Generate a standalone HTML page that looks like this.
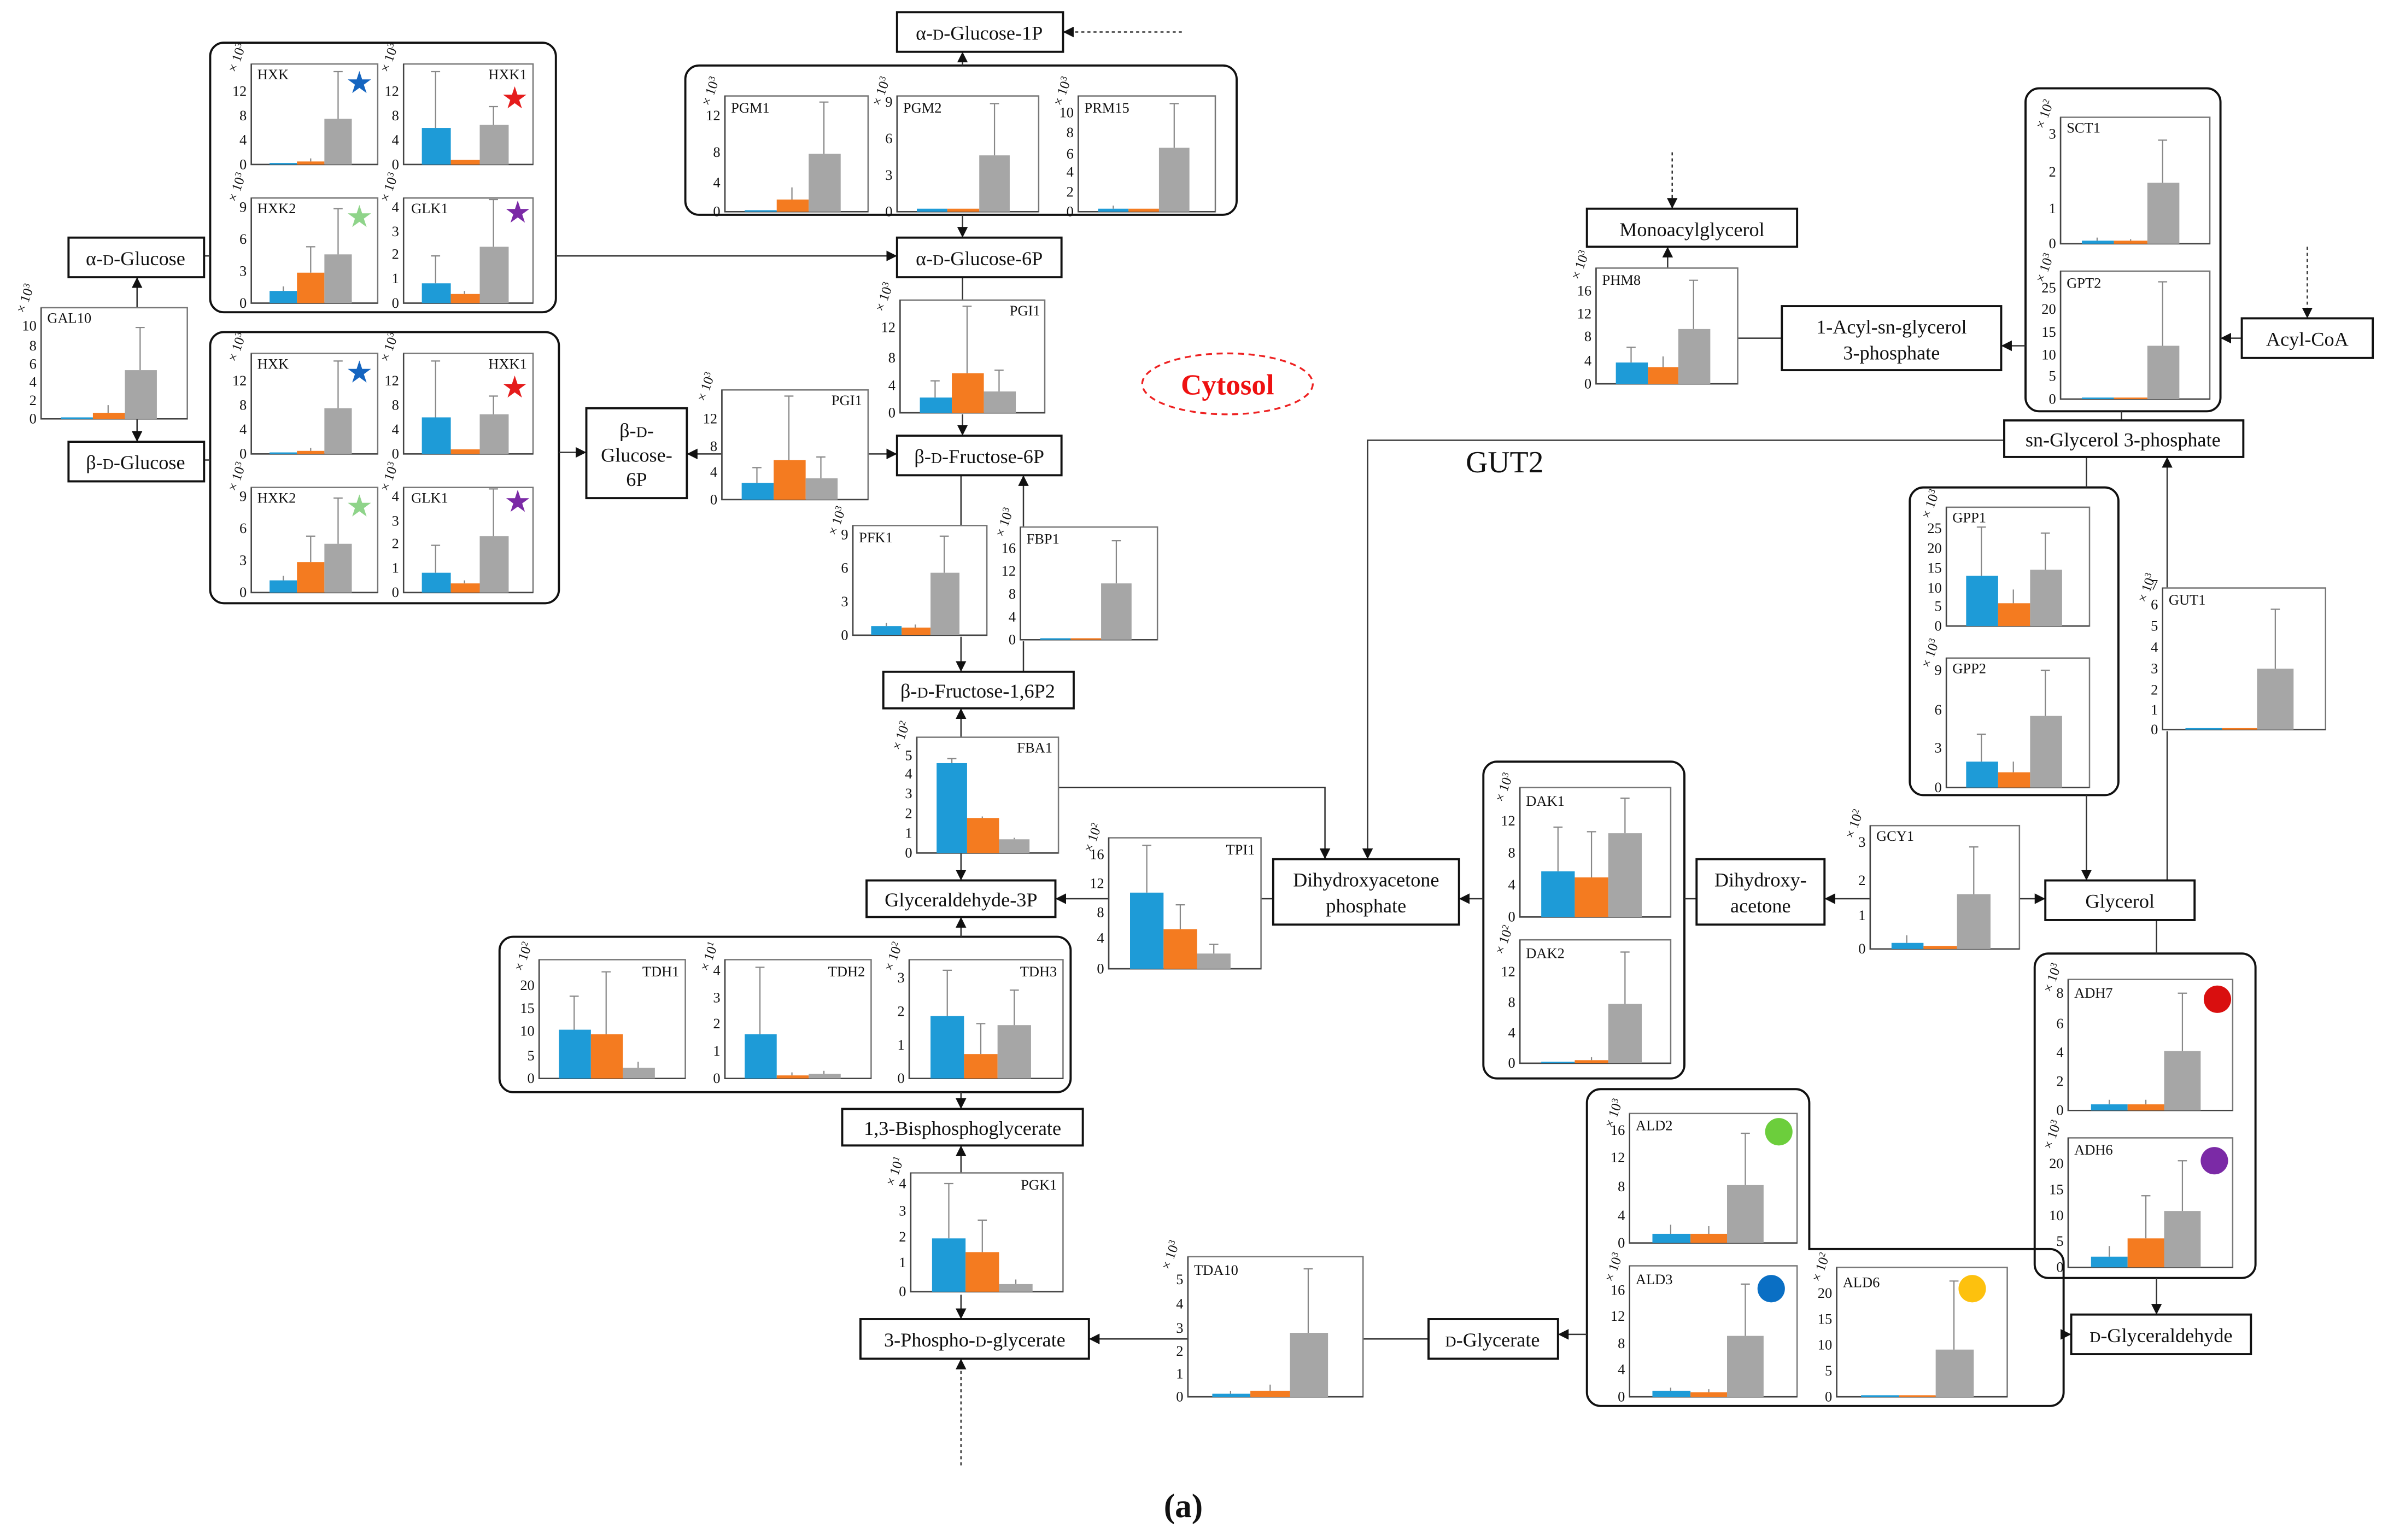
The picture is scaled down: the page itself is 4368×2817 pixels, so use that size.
<!DOCTYPE html>
<html><head><meta charset="utf-8"><style>
html,body{margin:0;padding:0;background:#fff}
svg{display:block}
text{font-family:"Liberation Serif",serif;fill:#111}
.fr{fill:none;stroke:#777;stroke-width:.9}
.ax{fill:none;stroke:#444;stroke-width:.9}
.b{fill:#1e9bd7}.o{fill:#f47b20}.g{fill:#a6a6a6}
.e{fill:none;stroke:#888;stroke-width:.8}
.t{font-size:9.5px;text-anchor:end}
.n{font-size:9.5px}
.nr{font-size:9.5px;text-anchor:end}
.x{font-size:9px}
.box{fill:#fff;stroke:#111;stroke-width:1.4}
.grp{fill:none;stroke:#111;stroke-width:1.4}
.l{fill:none;stroke:#333;stroke-width:.9}
.d{fill:none;stroke:#333;stroke-width:.9;stroke-dasharray:2 2}
.lb{font-size:13px;text-anchor:middle}
</style></head><body>
<svg width="4368" height="2817" viewBox="0 0 1568 1011" preserveAspectRatio="none" xmlns="http://www.w3.org/2000/svg">
<defs><marker id="a" viewBox="0 0 10 10" refX="10" refY="5" markerWidth="7" markerHeight="7" markerUnits="userSpaceOnUse" orient="auto"><path d="M0,0L10,5L0,10z" fill="#111"/></marker></defs>

<!-- group boxes -->
<rect class="grp" x="138" y="28" width="227" height="177" rx="9"/>
<rect class="grp" x="138" y="218" width="229" height="178" rx="9"/>
<rect class="grp" x="450" y="43" width="362" height="98" rx="9"/>
<rect class="grp" x="328" y="615" width="375" height="102" rx="9"/>
<rect class="grp" x="974" y="500" width="132" height="208" rx="9"/>
<path class="grp" d="M1051,715H1179a9,9 0 0 1 9,9V820H1346a9,9 0 0 1 9,9V914a9,9 0 0 1 -9,9H1051a9,9 0 0 1 -9,-9V724a9,9 0 0 1 9,-9z"/>
<rect class="grp" x="1336" y="626" width="145" height="213" rx="9"/>
<rect class="grp" x="1254" y="320" width="137" height="202" rx="9"/>
<rect class="grp" x="1330" y="58" width="128" height="212" rx="9"/>

<!-- connectors -->
<path class="l" d="M632,43V34" marker-end="url(#a)"/>
<path class="d" d="M776,21H698" marker-end="url(#a)"/>
<path class="l" d="M632,141V156" marker-end="url(#a)"/>
<path class="l" d="M365,168H589" marker-end="url(#a)"/>
<path class="l" d="M90,202V182" marker-end="url(#a)"/>
<path class="l" d="M90,275V290" marker-end="url(#a)"/>
<path class="l" d="M134,168H138M134,302H138"/>
<path class="l" d="M367,297H385" marker-end="url(#a)"/>
<path class="l" d="M474,298H451" marker-end="url(#a)"/>
<path class="l" d="M570,298H589" marker-end="url(#a)"/>
<path class="l" d="M632,182V197"/>
<path class="l" d="M632,272V286" marker-end="url(#a)"/>
<path class="l" d="M631,312V345"/>
<path class="l" d="M631,418V441" marker-end="url(#a)"/>
<path class="l" d="M672,441V421"/>
<path class="l" d="M672,346V312" marker-end="url(#a)"/>
<path class="l" d="M631,484V465" marker-end="url(#a)"/>
<path class="l" d="M631,560V578" marker-end="url(#a)"/>
<path class="l" d="M695,517H870V564" marker-end="url(#a)"/>
<path class="l" d="M836,590H828"/>
<path class="l" d="M728,590H693" marker-end="url(#a)"/>
<path class="l" d="M631,615V602" marker-end="url(#a)"/>
<path class="l" d="M631,717V728" marker-end="url(#a)"/>
<path class="l" d="M631,770V752" marker-end="url(#a)"/>
<path class="l" d="M631,850V866" marker-end="url(#a)"/>
<path class="d" d="M631,962V892" marker-end="url(#a)"/>
<path class="l" d="M938,879H895"/>
<path class="l" d="M780,879H715" marker-end="url(#a)"/>
<path class="l" d="M1042,876H1023" marker-end="url(#a)"/>
<path class="l" d="M1355,876H1360" marker-end="url(#a)"/>
<path class="l" d="M1416,839V863" marker-end="url(#a)"/>
<path class="l" d="M1416,626V604"/>
<path class="l" d="M1326,590H1343" marker-end="url(#a)"/>
<path class="l" d="M1228,590H1198" marker-end="url(#a)"/>
<path class="l" d="M974,590H958" marker-end="url(#a)"/>
<path class="l" d="M1114,590H1106"/>
<path class="l" d="M1370,522V578" marker-end="url(#a)"/>
<path class="l" d="M1370,320V300"/>
<path class="l" d="M1423,578V480"/>
<path class="l" d="M1423,386V300" marker-end="url(#a)"/>
<path class="l" d="M1316,289H898V564" marker-end="url(#a)"/>
<path class="l" d="M1393,276V270"/>
<path class="l" d="M1472,222H1458" marker-end="url(#a)"/>
<path class="d" d="M1515,162V209" marker-end="url(#a)"/>
<path class="l" d="M1330,227H1314" marker-end="url(#a)"/>
<path class="l" d="M1170,222H1141"/>
<path class="l" d="M1095,176V162" marker-end="url(#a)"/>
<path class="d" d="M1098,100V137" marker-end="url(#a)"/>

<!-- nodes -->
<rect class="box" x="589" y="8" width="109" height="26"/><text class="lb" x="643" y="26">α-<tspan font-size="10">D</tspan>-Glucose-1P</text>
<rect class="box" x="589" y="156" width="108" height="26"/><text class="lb" x="643" y="174">α-<tspan font-size="10">D</tspan>-Glucose-6P</text>
<rect class="box" x="45" y="156" width="89" height="26"/><text class="lb" x="89" y="174">α-<tspan font-size="10">D</tspan>-Glucose</text>
<rect class="box" x="45" y="290" width="89" height="26"/><text class="lb" x="89" y="308">β-<tspan font-size="10">D</tspan>-Glucose</text>
<rect class="box" x="385" y="268" width="66" height="59"/><text class="lb" x="418" y="287">β-<tspan font-size="10">D</tspan>-</text><text class="lb" x="418" y="303">Glucose-</text><text class="lb" x="418" y="319">6P</text>
<rect class="box" x="589" y="286" width="108" height="26"/><text class="lb" x="643" y="304">β-<tspan font-size="10">D</tspan>-Fructose-6P</text>
<rect class="box" x="580" y="441" width="125" height="24"/><text class="lb" x="642" y="458">β-<tspan font-size="10">D</tspan>-Fructose-1,6P2</text>
<rect class="box" x="569" y="578" width="124" height="24"/><text class="lb" x="631" y="595">Glyceraldehyde-3P</text>
<rect class="box" x="553" y="728" width="158" height="24"/><text class="lb" x="632" y="745">1,3-Bisphosphoglycerate</text>
<rect class="box" x="565" y="866" width="150" height="26"/><text class="lb" x="640" y="884">3-Phospho-<tspan font-size="10">D</tspan>-glycerate</text>
<rect class="box" x="836" y="564" width="122" height="43"/><text class="lb" x="897" y="582">Dihydroxyacetone</text><text class="lb" x="897" y="599">phosphate</text>
<rect class="box" x="1114" y="564" width="84" height="43"/><text class="lb" x="1156" y="582">Dihydroxy-</text><text class="lb" x="1156" y="599">acetone</text>
<rect class="box" x="1343" y="578" width="98" height="26"/><text class="lb" x="1392" y="596">Glycerol</text>
<rect class="box" x="938" y="866" width="85" height="26"/><text class="lb" x="980" y="884"><tspan font-size="10">D</tspan>-Glycerate</text>
<rect class="box" x="1360" y="863" width="118" height="26"/><text class="lb" x="1419" y="881"><tspan font-size="10">D</tspan>-Glyceraldehyde</text>
<rect class="box" x="1042" y="137" width="138" height="25"/><text class="lb" x="1111" y="155">Monoacylglycerol</text>
<rect class="box" x="1170" y="201" width="144" height="42"/><text class="lb" x="1242" y="219">1-Acyl-sn-glycerol</text><text class="lb" x="1242" y="236">3-phosphate</text>
<rect class="box" x="1472" y="209" width="86" height="26"/><text class="lb" x="1515" y="227">Acyl-CoA</text>
<rect class="box" x="1316" y="276" width="157" height="24"/><text class="lb" x="1394" y="293">sn-Glycerol 3-phosphate</text>
<ellipse cx="806" cy="252" rx="56" ry="20" fill="none" stroke="#e22" stroke-width="1.2" stroke-dasharray="4 3"/>
<text x="806" y="259" text-anchor="middle" font-size="19" font-weight="bold" style="fill:#e11">Cytosol</text>
<text x="988" y="310" text-anchor="middle" font-size="20">GUT2</text>
<text x="777" y="996" text-anchor="middle" font-size="22" font-weight="bold">(a)</text>

<!-- charts -->
<!-- HXK -->
<g><rect class="fr" x="165" y="42" width="83" height="66"/><path class="ax" d="M165,42V108H248"/>
<text class="t" x="162" y="111">0</text><text class="t" x="162" y="95">4</text><text class="t" x="162" y="79">8</text><text class="t" x="162" y="63">12</text>
<text class="x" transform="translate(155,48) rotate(-70)">× 10<tspan font-size="6" dy="-3">3</tspan></text>
<text class="n" x="169" y="52">HXK</text>
<rect class="b" x="177" y="107" width="18" height="1"/><rect class="o" x="195" y="106" width="18" height="2"/><rect class="g" x="213" y="78" width="18" height="30"/>
<path class="e" d="M204,106V104M222,78V47M219,47H225"/></g>
<!-- HXK1 -->
<g><rect class="fr" x="265" y="42" width="85" height="66"/><path class="ax" d="M265,42V108H350"/>
<text class="t" x="262" y="111">0</text><text class="t" x="262" y="95">4</text><text class="t" x="262" y="79">8</text><text class="t" x="262" y="63">12</text>
<text class="x" transform="translate(255,48) rotate(-70)">× 10<tspan font-size="6" dy="-3">3</tspan></text>
<text class="nr" x="346" y="52">HXK1</text>
<rect class="b" x="277" y="84" width="19" height="24"/><rect class="o" x="296" y="105" width="19" height="3"/><rect class="g" x="315" y="82" width="19" height="26"/>
<path class="e" d="M286,84V47M283,47H289M324,82V70M321,70H327"/></g>
<!-- HXK2 -->
<g><rect class="fr" x="165" y="130" width="83" height="69"/><path class="ax" d="M165,130V199H248"/>
<text class="t" x="162" y="202">0</text><text class="t" x="162" y="181">3</text><text class="t" x="162" y="160">6</text><text class="t" x="162" y="139">9</text>
<text class="x" transform="translate(155,133) rotate(-70)">× 10<tspan font-size="6" dy="-3">3</tspan></text>
<text class="n" x="169" y="140">HXK2</text>
<rect class="b" x="177" y="191" width="18" height="8"/><rect class="o" x="195" y="179" width="18" height="20"/><rect class="g" x="213" y="167" width="18" height="32"/>
<path class="e" d="M186,191V188M204,179V162M201,162H207M222,167V137M219,137H225"/></g>
<!-- GLK1 -->
<g><rect class="fr" x="265" y="130" width="85" height="69"/><path class="ax" d="M265,130V199H350"/>
<text class="t" x="262" y="202">0</text><text class="t" x="262" y="186">1</text><text class="t" x="262" y="170">2</text><text class="t" x="262" y="155">3</text><text class="t" x="262" y="139">4</text>
<text class="x" transform="translate(255,133) rotate(-70)">× 10<tspan font-size="6" dy="-3">3</tspan></text>
<text class="n" x="270" y="140">GLK1</text>
<rect class="b" x="277" y="186" width="19" height="13"/><rect class="o" x="296" y="193" width="19" height="6"/><rect class="g" x="315" y="162" width="19" height="37"/>
<path class="e" d="M286,186V168M283,168H289M305,193V191M324,162V131M321,131H327"/></g>
<!-- second group (shift +190) -->
<g transform="translate(0,190)">
<g><rect class="fr" x="165" y="42" width="83" height="66"/><path class="ax" d="M165,42V108H248"/>
<text class="t" x="162" y="111">0</text><text class="t" x="162" y="95">4</text><text class="t" x="162" y="79">8</text><text class="t" x="162" y="63">12</text>
<text class="x" transform="translate(155,48) rotate(-70)">× 10<tspan font-size="6" dy="-3">3</tspan></text>
<text class="n" x="169" y="52">HXK</text>
<rect class="b" x="177" y="107" width="18" height="1"/><rect class="o" x="195" y="106" width="18" height="2"/><rect class="g" x="213" y="78" width="18" height="30"/>
<path class="e" d="M204,106V104M222,78V47M219,47H225"/></g>
<g><rect class="fr" x="265" y="42" width="85" height="66"/><path class="ax" d="M265,42V108H350"/>
<text class="t" x="262" y="111">0</text><text class="t" x="262" y="95">4</text><text class="t" x="262" y="79">8</text><text class="t" x="262" y="63">12</text>
<text class="x" transform="translate(255,48) rotate(-70)">× 10<tspan font-size="6" dy="-3">3</tspan></text>
<text class="nr" x="346" y="52">HXK1</text>
<rect class="b" x="277" y="84" width="19" height="24"/><rect class="o" x="296" y="105" width="19" height="3"/><rect class="g" x="315" y="82" width="19" height="26"/>
<path class="e" d="M286,84V47M283,47H289M324,82V70M321,70H327"/></g>
<g><rect class="fr" x="165" y="130" width="83" height="69"/><path class="ax" d="M165,130V199H248"/>
<text class="t" x="162" y="202">0</text><text class="t" x="162" y="181">3</text><text class="t" x="162" y="160">6</text><text class="t" x="162" y="139">9</text>
<text class="x" transform="translate(155,133) rotate(-70)">× 10<tspan font-size="6" dy="-3">3</tspan></text>
<text class="n" x="169" y="140">HXK2</text>
<rect class="b" x="177" y="191" width="18" height="8"/><rect class="o" x="195" y="179" width="18" height="20"/><rect class="g" x="213" y="167" width="18" height="32"/>
<path class="e" d="M186,191V188M204,179V162M201,162H207M222,167V137M219,137H225"/></g>
<g><rect class="fr" x="265" y="130" width="85" height="69"/><path class="ax" d="M265,130V199H350"/>
<text class="t" x="262" y="202">0</text><text class="t" x="262" y="186">1</text><text class="t" x="262" y="170">2</text><text class="t" x="262" y="155">3</text><text class="t" x="262" y="139">4</text>
<text class="x" transform="translate(255,133) rotate(-70)">× 10<tspan font-size="6" dy="-3">3</tspan></text>
<text class="n" x="270" y="140">GLK1</text>
<rect class="b" x="277" y="186" width="19" height="13"/><rect class="o" x="296" y="193" width="19" height="6"/><rect class="g" x="315" y="162" width="19" height="37"/>
<path class="e" d="M286,186V168M283,168H289M305,193V191M324,162V131M321,131H327"/></g>
</g>
<!-- stars -->
<g font-size="20" text-anchor="middle" font-family="DejaVu Sans">
<text x="236" y="61" style="fill:#1565c0">★</text><text x="338" y="71" style="fill:#e51c1c">★</text><text x="236" y="149" style="fill:#8fd48a">★</text><text x="340" y="146" style="fill:#7b2aa6">★</text>
<text x="236" y="251" style="fill:#1565c0">★</text><text x="338" y="261" style="fill:#e51c1c">★</text><text x="236" y="339" style="fill:#8fd48a">★</text><text x="340" y="336" style="fill:#7b2aa6">★</text>
</g>
<!-- GAL10 -->
<g><rect class="fr" x="27" y="202" width="96" height="73"/><path class="ax" d="M27,202V275H123"/>
<text class="t" x="24" y="278">0</text><text class="t" x="24" y="266">2</text><text class="t" x="24" y="254">4</text><text class="t" x="24" y="242">6</text><text class="t" x="24" y="230">8</text><text class="t" x="24" y="217">10</text>
<text class="x" transform="translate(16,206) rotate(-70)">× 10<tspan font-size="6" dy="-3">3</tspan></text>
<text class="n" x="31" y="212">GAL10</text>
<rect class="b" x="40" y="274" width="21" height="1"/><rect class="o" x="61" y="271" width="21" height="4"/><rect class="g" x="82" y="243" width="21" height="32"/>
<path class="e" d="M71,271V266M92,243V215M89,215H95"/></g>
<!-- PGM1 -->
<g><rect class="fr" x="476" y="63" width="94" height="76"/><path class="ax" d="M476,63V139H570"/>
<text class="t" x="473" y="142">0</text><text class="t" x="473" y="123">4</text><text class="t" x="473" y="103">8</text><text class="t" x="473" y="79">12</text>
<text class="x" transform="translate(466,70) rotate(-70)">× 10<tspan font-size="6" dy="-3">3</tspan></text>
<text class="n" x="480" y="74">PGM1</text>
<rect class="b" x="489" y="138" width="21" height="1"/><rect class="o" x="510" y="131" width="21" height="8"/><rect class="g" x="531" y="101" width="21" height="38"/>
<path class="e" d="M520,131V123M541,101V67M538,67H544"/></g>
<!-- PGM2 -->
<g><rect class="fr" x="589" y="63" width="93" height="76"/><path class="ax" d="M589,63V139H682"/>
<text class="t" x="586" y="142">0</text><text class="t" x="586" y="118">3</text><text class="t" x="586" y="94">6</text><text class="t" x="586" y="70">9</text>
<text class="x" transform="translate(578,70) rotate(-70)">× 10<tspan font-size="6" dy="-3">3</tspan></text>
<text class="n" x="593" y="74">PGM2</text>
<rect class="b" x="602" y="137" width="20" height="2"/><rect class="o" x="622" y="137" width="21" height="2"/><rect class="g" x="643" y="102" width="20" height="37"/>
<path class="e" d="M653,102V68M650,68H656"/></g>
<!-- PRM15 -->
<g><rect class="fr" x="708" y="63" width="90" height="76"/><path class="ax" d="M708,63V139H798"/>
<text class="t" x="705" y="142">0</text><text class="t" x="705" y="129">2</text><text class="t" x="705" y="116">4</text><text class="t" x="705" y="104">6</text><text class="t" x="705" y="90">8</text><text class="t" x="705" y="77">10</text>
<text class="x" transform="translate(697,70) rotate(-70)">× 10<tspan font-size="6" dy="-3">3</tspan></text>
<text class="n" x="712" y="74">PRM15</text>
<rect class="b" x="721" y="137" width="20" height="2"/><rect class="o" x="741" y="137" width="20" height="2"/><rect class="g" x="761" y="97" width="20" height="42"/>
<path class="e" d="M731,137V135M771,97V68M768,68H774"/></g>
<!-- PGI1 upper -->
<g><rect class="fr" x="591" y="197" width="95" height="74"/><path class="ax" d="M591,197V271H686"/>
<text class="t" x="588" y="274">0</text><text class="t" x="588" y="256">4</text><text class="t" x="588" y="238">8</text><text class="t" x="588" y="218">12</text>
<text class="x" transform="translate(580,205) rotate(-70)">× 10<tspan font-size="6" dy="-3">3</tspan></text>
<text class="nr" x="683" y="207">PGI1</text>
<rect class="b" x="604" y="261" width="21" height="10"/><rect class="o" x="625" y="245" width="21" height="26"/><rect class="g" x="646" y="257" width="21" height="14"/>
<path class="e" d="M614,261V250M611,250H617M635,245V201M632,201H638M656,257V243M653,243H659"/></g>
<!-- PGI1 lower -->
<g><rect class="fr" x="474" y="256" width="96" height="72"/><path class="ax" d="M474,256V328H570"/>
<text class="t" x="471" y="331">0</text><text class="t" x="471" y="313">4</text><text class="t" x="471" y="296">8</text><text class="t" x="471" y="278">12</text>
<text class="x" transform="translate(463,264) rotate(-70)">× 10<tspan font-size="6" dy="-3">3</tspan></text>
<text class="nr" x="566" y="266">PGI1</text>
<rect class="b" x="487" y="317" width="21" height="11"/><rect class="o" x="508" y="302" width="21" height="26"/><rect class="g" x="529" y="314" width="21" height="14"/>
<path class="e" d="M497,317V307M494,307H500M518,302V260M515,260H521M539,314V300M536,300H542"/></g>
<!-- PFK1 -->
<g><rect class="fr" x="560" y="345" width="88" height="72"/><path class="ax" d="M560,345V417H648"/>
<text class="t" x="557" y="420">0</text><text class="t" x="557" y="398">3</text><text class="t" x="557" y="376">6</text><text class="t" x="557" y="354">9</text>
<text class="x" transform="translate(549,352) rotate(-70)">× 10<tspan font-size="6" dy="-3">3</tspan></text>
<text class="n" x="564" y="356">PFK1</text>
<rect class="b" x="572" y="411" width="20" height="6"/><rect class="o" x="592" y="412" width="19" height="5"/><rect class="g" x="611" y="376" width="19" height="41"/>
<path class="e" d="M582,411V409M601,412V410M620,376V352M617,352H623"/></g>
<!-- FBP1 -->
<g><rect class="fr" x="670" y="346" width="90" height="74"/><path class="ax" d="M670,346V420H760"/>
<text class="t" x="667" y="423">0</text><text class="t" x="667" y="408">4</text><text class="t" x="667" y="393">8</text><text class="t" x="667" y="378">12</text><text class="t" x="667" y="363">16</text>
<text class="x" transform="translate(659,353) rotate(-70)">× 10<tspan font-size="6" dy="-3">3</tspan></text>
<text class="n" x="674" y="357">FBP1</text>
<rect class="b" x="683" y="419" width="20" height="1"/><rect class="o" x="703" y="419" width="20" height="1"/><rect class="g" x="723" y="383" width="20" height="37"/>
<path class="e" d="M733,383V355M730,355H736"/></g>
<!-- FBA1 -->
<g><rect class="fr" x="602" y="484" width="93" height="76"/><path class="ax" d="M602,484V560H695"/>
<text class="t" x="599" y="563">0</text><text class="t" x="599" y="550">1</text><text class="t" x="599" y="537">2</text><text class="t" x="599" y="524">3</text><text class="t" x="599" y="511">4</text><text class="t" x="599" y="499">5</text>
<text class="x" transform="translate(591,493) rotate(-70)">× 10<tspan font-size="6" dy="-3">2</tspan></text>
<text class="nr" x="691" y="494">FBA1</text>
<rect class="b" x="615" y="501" width="20" height="59"/><rect class="o" x="635" y="537" width="21" height="23"/><rect class="g" x="656" y="551" width="20" height="9"/>
<path class="e" d="M625,501V498M622,498H628M645,537V536M666,551V550"/></g>
<!-- TPI1 -->
<g><rect class="fr" x="728" y="550" width="100" height="86"/><path class="ax" d="M728,550V636H828"/>
<text class="t" x="725" y="639">0</text><text class="t" x="725" y="619">4</text><text class="t" x="725" y="602">8</text><text class="t" x="725" y="583">12</text><text class="t" x="725" y="564">16</text>
<text class="x" transform="translate(717,560) rotate(-70)">× 10<tspan font-size="6" dy="-3">2</tspan></text>
<text class="nr" x="824" y="561">TPI1</text>
<rect class="b" x="742" y="586" width="22" height="50"/><rect class="o" x="764" y="610" width="22" height="26"/><rect class="g" x="786" y="626" width="22" height="10"/>
<path class="e" d="M753,586V555M750,555H756M775,610V594M772,594H778M797,626V620M794,620H800"/></g>
<!-- TDH1 -->
<g><rect class="fr" x="354" y="630" width="96" height="78"/><path class="ax" d="M354,630V708H450"/>
<text class="t" x="351" y="711">0</text><text class="t" x="351" y="696">5</text><text class="t" x="351" y="680">10</text><text class="t" x="351" y="665">15</text><text class="t" x="351" y="650">20</text>
<text class="x" transform="translate(343,638) rotate(-70)">× 10<tspan font-size="6" dy="-3">2</tspan></text>
<text class="nr" x="446" y="641">TDH1</text>
<rect class="b" x="367" y="676" width="21" height="32"/><rect class="o" x="388" y="679" width="21" height="29"/><rect class="g" x="409" y="701" width="21" height="7"/>
<path class="e" d="M377,676V654M374,654H380M398,679V638M395,638H401M419,701V697"/></g>
<!-- TDH2 -->
<g><rect class="fr" x="476" y="630" width="96" height="78"/><path class="ax" d="M476,630V708H572"/>
<text class="t" x="473" y="711">0</text><text class="t" x="473" y="693">1</text><text class="t" x="473" y="675">2</text><text class="t" x="473" y="658">3</text><text class="t" x="473" y="640">4</text>
<text class="x" transform="translate(465,638) rotate(-70)">× 10<tspan font-size="6" dy="-3">1</tspan></text>
<text class="nr" x="568" y="641">TDH2</text>
<rect class="b" x="489" y="679" width="21" height="29"/><rect class="o" x="510" y="706" width="21" height="2"/><rect class="g" x="531" y="705" width="21" height="3"/>
<path class="e" d="M499,679V635M496,635H502M520,706V704M541,705V703"/></g>
<!-- TDH3 -->
<g><rect class="fr" x="597" y="630" width="101" height="78"/><path class="ax" d="M597,630V708H698"/>
<text class="t" x="594" y="711">0</text><text class="t" x="594" y="689">1</text><text class="t" x="594" y="667">2</text><text class="t" x="594" y="645">3</text>
<text class="x" transform="translate(586,638) rotate(-70)">× 10<tspan font-size="6" dy="-3">2</tspan></text>
<text class="nr" x="694" y="641">TDH3</text>
<rect class="b" x="611" y="667" width="22" height="41"/><rect class="o" x="633" y="692" width="22" height="16"/><rect class="g" x="655" y="673" width="22" height="35"/>
<path class="e" d="M622,667V637M619,637H625M644,692V672M641,672H647M666,673V650M663,650H669"/></g>
<!-- PGK1 -->
<g><rect class="fr" x="598" y="770" width="100" height="78"/><path class="ax" d="M598,770V848H698"/>
<text class="t" x="595" y="851">0</text><text class="t" x="595" y="832">1</text><text class="t" x="595" y="815">2</text><text class="t" x="595" y="798">3</text><text class="t" x="595" y="780">4</text>
<text class="x" transform="translate(587,779) rotate(-70)">× 10<tspan font-size="6" dy="-3">1</tspan></text>
<text class="nr" x="694" y="781">PGK1</text>
<rect class="b" x="612" y="813" width="22" height="35"/><rect class="o" x="634" y="822" width="22" height="26"/><rect class="g" x="656" y="843" width="22" height="5"/>
<path class="e" d="M623,813V777M620,777H626M645,822V801M642,801H648M667,843V840"/></g>
<!-- TDA10 -->
<g><rect class="fr" x="780" y="825" width="115" height="92"/><path class="ax" d="M780,825V917H895"/>
<text class="t" x="777" y="920">0</text><text class="t" x="777" y="905">1</text><text class="t" x="777" y="890">2</text><text class="t" x="777" y="875">3</text><text class="t" x="777" y="859">4</text><text class="t" x="777" y="843">5</text>
<text class="x" transform="translate(768,834) rotate(-70)">× 10<tspan font-size="6" dy="-3">3</tspan></text>
<text class="n" x="784" y="837">TDA10</text>
<rect class="b" x="796" y="915" width="25" height="2"/><rect class="o" x="821" y="913" width="26" height="4"/><rect class="g" x="847" y="875" width="25" height="42"/>
<path class="e" d="M808,915V913M834,913V909M859,875V833M856,833H862"/></g>
<!-- DAK1 -->
<g><rect class="fr" x="998" y="517" width="99" height="85"/><path class="ax" d="M998,517V602H1097"/>
<text class="t" x="995" y="605">0</text><text class="t" x="995" y="584">4</text><text class="t" x="995" y="563">8</text><text class="t" x="995" y="542">12</text>
<text class="x" transform="translate(987,527) rotate(-70)">× 10<tspan font-size="6" dy="-3">3</tspan></text>
<text class="n" x="1002" y="529">DAK1</text>
<rect class="b" x="1012" y="572" width="22" height="30"/><rect class="o" x="1034" y="576" width="22" height="26"/><rect class="g" x="1056" y="547" width="22" height="55"/>
<path class="e" d="M1023,572V543M1020,543H1026M1045,576V546M1042,546H1048M1067,547V524M1064,524H1070"/></g>
<!-- DAK2 -->
<g><rect class="fr" x="998" y="617" width="99" height="81"/><path class="ax" d="M998,617V698H1097"/>
<text class="t" x="995" y="701">0</text><text class="t" x="995" y="681">4</text><text class="t" x="995" y="661">8</text><text class="t" x="995" y="641">12</text>
<text class="x" transform="translate(987,627) rotate(-70)">× 10<tspan font-size="6" dy="-3">2</tspan></text>
<text class="n" x="1002" y="629">DAK2</text>
<rect class="b" x="1012" y="697" width="22" height="1"/><rect class="o" x="1034" y="696" width="22" height="2"/><rect class="g" x="1056" y="659" width="22" height="39"/>
<path class="e" d="M1045,696V694M1067,659V625M1064,625H1070"/></g>
<!-- GCY1 -->
<g><rect class="fr" x="1228" y="542" width="98" height="81"/><path class="ax" d="M1228,542V623H1326"/>
<text class="t" x="1225" y="626">0</text><text class="t" x="1225" y="604">1</text><text class="t" x="1225" y="581">2</text><text class="t" x="1225" y="556">3</text>
<text class="x" transform="translate(1217,551) rotate(-70)">× 10<tspan font-size="6" dy="-3">2</tspan></text>
<text class="n" x="1232" y="552">GCY1</text>
<rect class="b" x="1242" y="619" width="21" height="4"/><rect class="o" x="1263" y="621" width="22" height="2"/><rect class="g" x="1285" y="587" width="22" height="36"/>
<path class="e" d="M1252,619V614M1296,587V556M1293,556H1299"/></g>
<!-- ALD2 -->
<g><rect class="fr" x="1070" y="731" width="110" height="85"/><path class="ax" d="M1070,731V816H1180"/>
<text class="t" x="1067" y="819">0</text><text class="t" x="1067" y="801">4</text><text class="t" x="1067" y="782">8</text><text class="t" x="1067" y="763">12</text><text class="t" x="1067" y="745">16</text>
<text class="x" transform="translate(1059,741) rotate(-70)">× 10<tspan font-size="6" dy="-3">3</tspan></text>
<text class="n" x="1074" y="742">ALD2</text>
<rect class="b" x="1085" y="810" width="25" height="6"/><rect class="o" x="1110" y="810" width="24" height="6"/><rect class="g" x="1134" y="778" width="24" height="38"/>
<path class="e" d="M1097,810V804M1122,810V805M1146,778V744M1143,744H1149"/>
<ellipse cx="1168" cy="743" rx="9" ry="9" style="fill:#6cce3c"/></g>
<!-- ALD3 -->
<g><rect class="fr" x="1070" y="831" width="110" height="86"/><path class="ax" d="M1070,831V917H1180"/>
<text class="t" x="1067" y="920">0</text><text class="t" x="1067" y="902">4</text><text class="t" x="1067" y="885">8</text><text class="t" x="1067" y="867">12</text><text class="t" x="1067" y="850">16</text>
<text class="x" transform="translate(1059,842) rotate(-70)">× 10<tspan font-size="6" dy="-3">3</tspan></text>
<text class="n" x="1074" y="843">ALD3</text>
<rect class="b" x="1085" y="913" width="25" height="4"/><rect class="o" x="1110" y="914" width="24" height="3"/><rect class="g" x="1134" y="877" width="24" height="40"/>
<path class="e" d="M1097,913V911M1122,914V912M1146,877V843M1143,843H1149"/>
<ellipse cx="1163" cy="846" rx="9" ry="9" style="fill:#0a6fc4"/></g>
<!-- ALD6 -->
<g><rect class="fr" x="1206" y="832" width="112" height="85"/><path class="ax" d="M1206,832V917H1318"/>
<text class="t" x="1203" y="920">0</text><text class="t" x="1203" y="903">5</text><text class="t" x="1203" y="886">10</text><text class="t" x="1203" y="869">15</text><text class="t" x="1203" y="852">20</text>
<text class="x" transform="translate(1195,842) rotate(-70)">× 10<tspan font-size="6" dy="-3">2</tspan></text>
<text class="n" x="1210" y="845">ALD6</text>
<rect class="b" x="1222" y="916" width="25" height="1"/><rect class="o" x="1247" y="916" width="24" height="1"/><rect class="g" x="1271" y="886" width="25" height="31"/>
<path class="e" d="M1283,886V841M1280,841H1286"/>
<ellipse cx="1295" cy="846" rx="9" ry="9" style="fill:#fdc10e"/></g>
<!-- ADH7 -->
<g><rect class="fr" x="1358" y="643" width="108" height="86"/><path class="ax" d="M1358,643V729H1466"/>
<text class="t" x="1355" y="732">0</text><text class="t" x="1355" y="713">2</text><text class="t" x="1355" y="694">4</text><text class="t" x="1355" y="675">6</text><text class="t" x="1355" y="655">8</text>
<text class="x" transform="translate(1347,652) rotate(-70)">× 10<tspan font-size="6" dy="-3">3</tspan></text>
<text class="n" x="1362" y="655">ADH7</text>
<rect class="b" x="1373" y="725" width="24" height="4"/><rect class="o" x="1397" y="725" width="24" height="4"/><rect class="g" x="1421" y="690" width="24" height="39"/>
<path class="e" d="M1385,725V722M1409,725V722M1433,690V652M1430,652H1436"/>
<ellipse cx="1456" cy="656" rx="9" ry="9" style="fill:#d90f0f"/></g>
<!-- ADH6 -->
<g><rect class="fr" x="1358" y="747" width="108" height="85"/><path class="ax" d="M1358,747V832H1466"/>
<text class="t" x="1355" y="835">0</text><text class="t" x="1355" y="818">5</text><text class="t" x="1355" y="801">10</text><text class="t" x="1355" y="784">15</text><text class="t" x="1355" y="767">20</text>
<text class="x" transform="translate(1347,755) rotate(-70)">× 10<tspan font-size="6" dy="-3">3</tspan></text>
<text class="n" x="1362" y="758">ADH6</text>
<rect class="b" x="1373" y="825" width="24" height="7"/><rect class="o" x="1397" y="813" width="24" height="19"/><rect class="g" x="1421" y="795" width="24" height="37"/>
<path class="e" d="M1385,825V818M1409,813V785M1406,785H1412M1433,795V762M1430,762H1436"/>
<ellipse cx="1454" cy="762" rx="9" ry="9" style="fill:#7b2aa6"/></g>
<!-- GPP1 -->
<g><rect class="fr" x="1278" y="333" width="94" height="78"/><path class="ax" d="M1278,333V411H1372"/>
<text class="t" x="1275" y="414">0</text><text class="t" x="1275" y="401">5</text><text class="t" x="1275" y="389">10</text><text class="t" x="1275" y="376">15</text><text class="t" x="1275" y="363">20</text><text class="t" x="1275" y="350">25</text>
<text class="x" transform="translate(1267,341) rotate(-70)">× 10<tspan font-size="6" dy="-3">3</tspan></text>
<text class="n" x="1282" y="343">GPP1</text>
<rect class="b" x="1291" y="378" width="21" height="33"/><rect class="o" x="1312" y="396" width="21" height="15"/><rect class="g" x="1333" y="374" width="21" height="37"/>
<path class="e" d="M1301,378V346M1298,346H1304M1322,396V387M1343,374V350M1340,350H1346"/></g>
<!-- GPP2 -->
<g><rect class="fr" x="1278" y="432" width="94" height="85"/><path class="ax" d="M1278,432V517H1372"/>
<text class="t" x="1275" y="520">0</text><text class="t" x="1275" y="494">3</text><text class="t" x="1275" y="469">6</text><text class="t" x="1275" y="443">9</text>
<text class="x" transform="translate(1267,439) rotate(-70)">× 10<tspan font-size="6" dy="-3">3</tspan></text>
<text class="n" x="1282" y="442">GPP2</text>
<rect class="b" x="1291" y="500" width="21" height="17"/><rect class="o" x="1312" y="507" width="21" height="10"/><rect class="g" x="1333" y="470" width="21" height="47"/>
<path class="e" d="M1301,500V482M1298,482H1304M1322,507V500M1343,470V440M1340,440H1346"/></g>
<!-- GUT1 -->
<g><rect class="fr" x="1420" y="386" width="107" height="93"/><path class="ax" d="M1420,386V479H1527"/>
<text class="t" x="1417" y="482">0</text><text class="t" x="1417" y="469">1</text><text class="t" x="1417" y="456">2</text><text class="t" x="1417" y="442">3</text><text class="t" x="1417" y="428">4</text><text class="t" x="1417" y="414">5</text><text class="t" x="1417" y="400">6</text><text class="t" x="1417" y="387">7</text>
<text class="x" transform="translate(1409,396) rotate(-70)">× 10<tspan font-size="6" dy="-3">3</tspan></text>
<text class="n" x="1424" y="397">GUT1</text>
<rect class="b" x="1435" y="478" width="24" height="1"/><rect class="o" x="1459" y="478" width="23" height="1"/><rect class="g" x="1482" y="439" width="24" height="40"/>
<path class="e" d="M1494,439V400M1491,400H1497"/></g>
<!-- SCT1 -->
<g><rect class="fr" x="1353" y="77" width="98" height="83"/><path class="ax" d="M1353,77V160H1451"/>
<text class="t" x="1350" y="163">0</text><text class="t" x="1350" y="140">1</text><text class="t" x="1350" y="116">2</text><text class="t" x="1350" y="91">3</text>
<text class="x" transform="translate(1342,85) rotate(-70)">× 10<tspan font-size="6" dy="-3">2</tspan></text>
<text class="n" x="1357" y="87">SCT1</text>
<rect class="b" x="1367" y="158" width="21" height="2"/><rect class="o" x="1388" y="158" width="22" height="2"/><rect class="g" x="1410" y="120" width="21" height="40"/>
<path class="e" d="M1377,158V156M1399,158V157M1420,120V92M1417,92H1423"/></g>
<!-- GPT2 -->
<g><rect class="fr" x="1353" y="178" width="98" height="84"/><path class="ax" d="M1353,178V262H1451"/>
<text class="t" x="1350" y="265">0</text><text class="t" x="1350" y="250">5</text><text class="t" x="1350" y="236">10</text><text class="t" x="1350" y="221">15</text><text class="t" x="1350" y="206">20</text><text class="t" x="1350" y="192">25</text>
<text class="x" transform="translate(1342,186) rotate(-70)">× 10<tspan font-size="6" dy="-3">3</tspan></text>
<text class="n" x="1357" y="189">GPT2</text>
<rect class="b" x="1367" y="261" width="21" height="1"/><rect class="o" x="1388" y="261" width="22" height="1"/><rect class="g" x="1410" y="227" width="21" height="35"/>
<path class="e" d="M1420,227V185M1417,185H1423"/></g>
<!-- PHM8 -->
<g><rect class="fr" x="1048" y="176" width="93" height="76"/><path class="ax" d="M1048,176V252H1141"/>
<text class="t" x="1045" y="255">0</text><text class="t" x="1045" y="240">4</text><text class="t" x="1045" y="224">8</text><text class="t" x="1045" y="209">12</text><text class="t" x="1045" y="194">16</text>
<text class="x" transform="translate(1037,184) rotate(-70)">× 10<tspan font-size="6" dy="-3">3</tspan></text>
<text class="n" x="1052" y="187">PHM8</text>
<rect class="b" x="1061" y="238" width="21" height="14"/><rect class="o" x="1082" y="241" width="20" height="11"/><rect class="g" x="1102" y="216" width="21" height="36"/>
<path class="e" d="M1071,238V228M1068,228H1074M1092,241V234M1112,216V184M1109,184H1115"/></g>
</svg>
</body></html>
